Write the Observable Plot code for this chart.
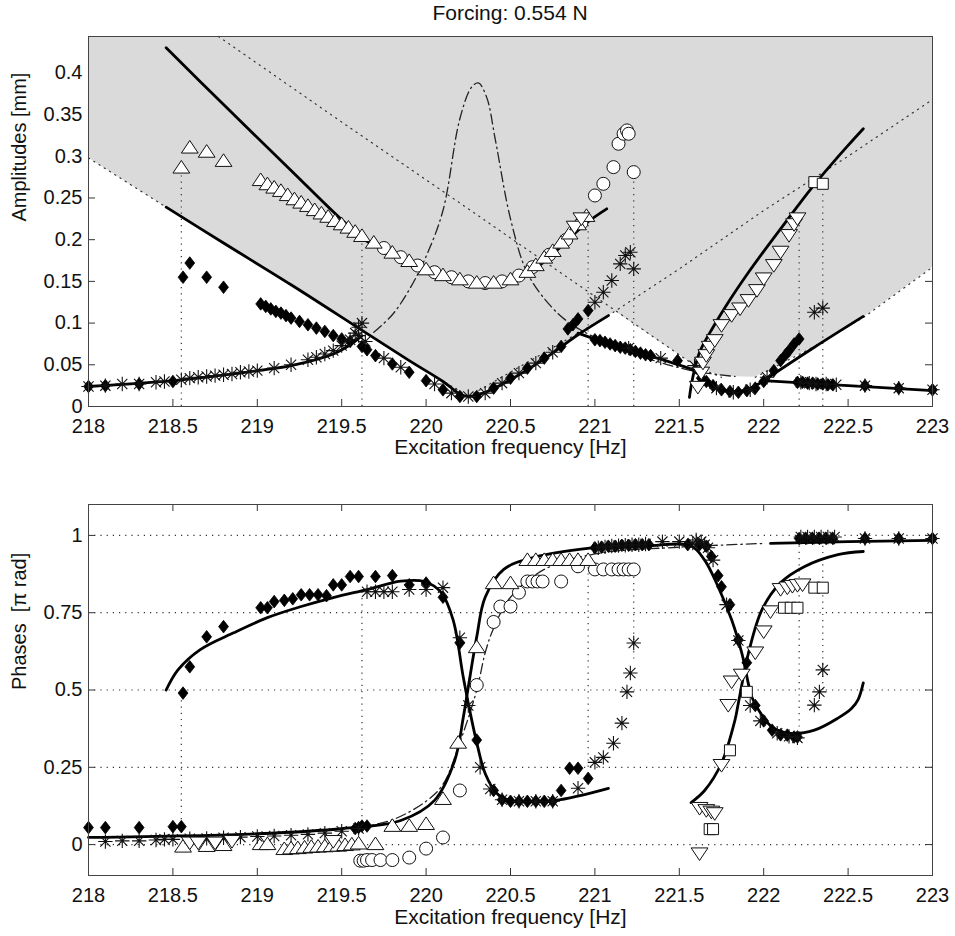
<!DOCTYPE html>
<html><head><meta charset="utf-8">
<script src="https://cdn.jsdelivr.net/npm/d3@7"></script>
<script src="https://cdn.jsdelivr.net/npm/@observablehq/plot@0.6"></script>
<style>
body{margin:0;background:#fff;font-family:"Liberation Sans",Arial,sans-serif;overflow:hidden}
#wrap{position:relative;width:955px;height:936px;overflow:hidden}
#title{position:absolute;left:88px;width:844px;top:1px;text-align:center;font-size:21px;color:#111;z-index:2;line-height:24px}
#top{position:absolute;left:0;top:0}
#bot{position:absolute;left:0;top:470px}
</style></head><body>
<div id="wrap"><div id="title">Forcing: 0.554 N</div><div id="top"></div><div id="bot"></div></div>
<script>
// ---------- common ----------
const xTicks = [218, 218.5, 219, 219.5, 220, 220.5, 221, 221.5, 222, 222.5, 223];
const xTickLabels = ["218","218.5","219","219.5","220","220.5","221","221.5","222","222.5","223"];
const xLabel = "Excitation frequency [Hz]";
const title = "Forcing: 0.554 N";

// ---------- top panel (amplitudes) ----------
const ampYTicks = [0, 0.05, 0.1, 0.15, 0.2, 0.25, 0.3, 0.35, 0.4];
const ampYTickLabels = ["0","0.05","0.1","0.15","0.2","0.25","0.3","0.35","0.4"];
const ampYMax = 0.4436;
const ampLabel = "Amplitudes [mm]";

const greyLower = [[218,0.298],[218.46,0.239],[218.8,0.196],[219.2,0.146],[219.6,0.094],[219.9,0.055],[220.1,0.03],[220.25,0.012],[220.5,0.032],[220.7,0.057],[220.9,0.086],[221.12,0.114],[221.6,0.048],[221.75,0.036],[221.95,0.035],[222.3,0.072],[222.6,0.108],[223,0.167]];

const dotB = [[218,0.298],[218.46,0.239],[219.2,0.146],[219.9,0.055],[220.25,0.012]];
const dotC = [[220.25,0.012],[221.08,0.109],[221.5,0.165],[222.0,0.235],[222.5,0.3],[223.0,0.368]];
const dotA = [[218.77,0.4436],[219.5,0.341],[220.2,0.244],[220.9,0.146],[221.6,0.048],[221.75,0.035]];
const dotD = [[221.95,0.035],[222.3,0.072],[222.6,0.108],[223.0,0.167]];

const ampDashDot = [[219.69,0.089],[219.8,0.11],[219.9,0.14],[220.0,0.18],[220.1,0.235],[220.2,0.345],[220.27,0.383],[220.31,0.388],[220.36,0.37],[220.41,0.32],[220.5,0.225],[220.6,0.16],[220.74,0.12],[220.85,0.1],[221.0,0.083],[221.2,0.066],[221.4,0.052],[221.6,0.042],[221.83,0.036]];

const ampS1 = [[218.46,0.43],[218.8,0.362],[219.2,0.283],[219.5,0.224],[219.65,0.198],[219.8,0.183],[220.0,0.164],[220.2,0.152],[220.35,0.148],[220.5,0.152],[220.65,0.166],[220.8,0.192],[220.95,0.22],[221.07,0.237]];
const ampS2 = [[218.46,0.239],[218.8,0.196],[219.2,0.146],[219.6,0.094],[219.9,0.055],[220.1,0.03],[220.2,0.015],[220.25,0.012],[220.35,0.017],[220.5,0.032],[220.7,0.057],[220.9,0.086],[221.08,0.109]];
const ampS3 = [[218.0,0.024],[218.5,0.031],[219.0,0.043],[219.2,0.049],[219.45,0.063],[219.55,0.074],[219.62,0.085]];
const ampS4 = [[220.9,0.088],[221.1,0.074],[221.3,0.062],[221.45,0.053],[221.57,0.045]];
const ampS5 = [[221.56,0.011],[221.58,0.035],[221.62,0.065],[221.7,0.095],[221.8,0.128],[221.9,0.158],[222.0,0.186],[222.1,0.213],[222.2,0.24],[222.3,0.266],[222.4,0.29],[222.5,0.313],[222.59,0.333]];
const ampS6 = [[221.57,0.045],[221.65,0.033],[221.72,0.022],[221.8,0.018],[221.88,0.019],[221.95,0.025],[222.03,0.034]];
const ampS7 = [[222.0,0.031],[222.3,0.071],[222.59,0.108]];
const ampS8 = [[222.0,0.031],[222.5,0.025],[223.0,0.019]];

const ampJumps = [[218.55,0.287],[219.62,0.205],[220.96,0.235],[221.23,0.281],[222.21,0.222],[222.35,0.267]];

const ampTriUp = [[218.55,0.287],[218.6,0.311],[218.7,0.306],[218.8,0.295],
 [219.02,0.272],[219.06,0.267],[219.1,0.263],[219.14,0.259],[219.18,0.254],[219.22,0.249],[219.26,0.245],[219.3,0.241],[219.34,0.236],[219.38,0.232],[219.42,0.228],[219.46,0.223],[219.5,0.219],[219.54,0.215],[219.58,0.21],[219.62,0.205],
 [219.69,0.197],[219.8,0.185],[219.9,0.175],[220.0,0.165],[220.1,0.158],[220.2,0.153],[220.3,0.149],[220.4,0.149],[220.5,0.153],[220.6,0.162],[220.65,0.17],[220.7,0.179],[220.75,0.187],[220.8,0.197],[220.85,0.208],[220.9,0.219],[220.95,0.229]];
const ampCircle = [[219.75,0.19],[219.85,0.179],[219.95,0.169],[220.05,0.161],[220.15,0.155],[220.25,0.15],[220.35,0.148],[220.45,0.15],[220.55,0.157],[220.63,0.167],[220.73,0.182],[220.83,0.2],[220.92,0.22],[221.0,0.253],[221.05,0.267],[221.11,0.287],[221.14,0.315],[221.17,0.327],[221.19,0.331],[221.2,0.327],[221.23,0.281]];
const ampDiamond = [[218.0,0.024],[218.1,0.025],[218.3,0.027],[218.5,0.03],
 [218.56,0.155],[218.6,0.172],[218.7,0.155],[218.8,0.143],
 [219.02,0.123],[219.05,0.12],[219.08,0.117],[219.11,0.114],[219.14,0.112],[219.17,0.109],[219.2,0.106],[219.25,0.102],[219.3,0.098],[219.35,0.094],[219.4,0.09],[219.45,0.085],[219.5,0.081],[219.55,0.078],
 [219.62,0.072],[219.65,0.068],[219.7,0.061],[219.8,0.051],[219.9,0.041],[220.0,0.031],[220.1,0.02],[220.2,0.012],[220.3,0.012],[220.4,0.022],[220.5,0.034],[220.6,0.046],[220.7,0.058],[220.8,0.072],[220.84,0.093],[220.87,0.098],[220.9,0.105],[220.96,0.115],
 [221.0,0.08],[221.03,0.079],[221.06,0.077],[221.09,0.075],[221.12,0.073],[221.15,0.071],[221.18,0.07],[221.21,0.068],[221.24,0.066],[221.27,0.064],[221.3,0.062],[221.33,0.061],[221.49,0.055],
 [221.63,0.034],[221.66,0.03],[221.7,0.025],[221.75,0.02],[221.8,0.018],[221.85,0.017],[221.9,0.019],[221.95,0.022],[222.0,0.03],
 [222.06,0.043],[222.1,0.055],[222.13,0.062],[222.15,0.067],[222.18,0.075],[222.21,0.081],
 [222.2,0.029],[222.23,0.029],[222.26,0.028],[222.29,0.028],[222.32,0.027],[222.35,0.027],[222.38,0.026],[222.41,0.026],[222.6,0.025],[222.8,0.022],[223.0,0.02]];
const ampAsterisk = [[218.0,0.024],[218.1,0.025],[218.2,0.027],[218.3,0.027],[218.4,0.029],[218.45,0.03],[218.55,0.032],[218.6,0.034],[218.65,0.035],[218.7,0.036],[218.75,0.037],[218.8,0.038],[218.85,0.039],[218.9,0.041],[218.95,0.042],[219.0,0.043],[219.1,0.046],[219.2,0.05],[219.3,0.056],[219.35,0.059],[219.4,0.063],[219.45,0.067],[219.5,0.073],[219.55,0.08],[219.58,0.088],[219.6,0.095],[219.62,0.1],[219.6,0.085],[219.64,0.078],
 [219.75,0.058],[219.85,0.047],[220.05,0.027],[220.15,0.016],[220.25,0.012],[220.35,0.016],[220.45,0.028],[220.55,0.04],[220.65,0.052],[220.75,0.065],
 [221.0,0.125],[221.05,0.137],[221.1,0.151],[221.15,0.171],[221.18,0.181],[221.21,0.185],[221.23,0.165],
 [221.2,0.07],[221.39,0.058],[221.59,0.049],[221.62,0.045],
 [221.72,0.022],[221.82,0.017],[221.92,0.02],[222.02,0.035],
 [222.3,0.113],[222.35,0.118],
 [222.22,0.029],[222.27,0.028],[222.31,0.027],[222.37,0.027],[222.43,0.026],[222.6,0.025],[222.8,0.022],[223.0,0.02]];
const ampTriDown = [[220.88,0.215],[220.92,0.225],[221.61,0.023],[221.63,0.04],[221.64,0.052],[221.66,0.061],[221.68,0.071],[221.71,0.079],[221.75,0.097],[221.81,0.109],[221.86,0.117],[221.91,0.127],[221.96,0.139],[222.0,0.153],[222.06,0.169],[222.1,0.185],[222.15,0.205],[222.18,0.218],[222.2,0.225]];
const ampSquare = [[222.3,0.269],[222.35,0.267]];

// ---------- bottom panel (phases) ----------
const phYTicks = [0, 0.25, 0.5, 0.75, 1];
const phYTickLabels = ["0","0.25","0.5","0.75","1"];
const phYDomain = [-0.1, 1.1];
const phLabel = "Phases  [\u03C0 rad]";

const phJumps = [[218.55,0.0,0.49],[219.62,0.05,0.82],[220.96,0.25,0.92],[221.23,0.6,0.89],[222.21,0.36,0.99],[222.35,0.5,0.99]];

const phDashDot = [[219.6,0.055],[219.8,0.08],[220.0,0.14],[220.1,0.195],[220.2,0.33],[220.3,0.5],[220.35,0.62],[220.4,0.7],[220.5,0.8],[220.7,0.89],[221.0,0.94],[221.5,0.962],[222.0,0.974]];
const phP1 = [[218.46,0.5],[218.53,0.565],[218.66,0.63],[218.86,0.685],[219.06,0.734],[219.26,0.77],[219.45,0.799],[219.65,0.825],[219.85,0.852],[219.99,0.851],[220.09,0.815],[220.16,0.727],[220.22,0.542],[220.26,0.43],[220.3,0.33],[220.35,0.23],[220.42,0.165],[220.5,0.143],[220.76,0.143],[221.08,0.182]];
const phP2 = [[218.0,0.023],[219.0,0.035],[219.51,0.052],[219.85,0.078],[220.05,0.143],[220.17,0.273],[220.22,0.41],[220.25,0.51],[220.3,0.672],[220.35,0.8],[220.46,0.89],[220.66,0.932],[221.05,0.964]];
const phP3 = [[221.0,0.962],[221.3,0.966],[221.57,0.966],[221.65,0.92],[221.73,0.834],[221.81,0.727],[221.87,0.62],[221.93,0.477],[221.97,0.435],[222.05,0.38],[222.16,0.36],[222.3,0.37],[222.44,0.409],[222.52,0.44],[222.56,0.47],[222.59,0.523]];
const phP4 = [[221.57,0.136],[221.65,0.175],[221.75,0.263],[221.83,0.403],[221.85,0.458],[221.91,0.62],[221.99,0.76],[222.1,0.847],[222.24,0.899],[222.44,0.938],[222.59,0.948]];
const phP5 = [[222.04,0.974],[222.5,0.98],[223.0,0.984]];

const phDiamond = [[218.0,0.055],[218.1,0.055],[218.3,0.055],[218.5,0.058],[218.55,0.058],
 [218.56,0.49],[218.6,0.575],[218.7,0.672],[218.8,0.705],[219.02,0.766],[219.06,0.766],[219.1,0.786],[219.16,0.79],[219.21,0.795],[219.26,0.808],[219.31,0.808],[219.36,0.808],[219.41,0.805],[219.45,0.84],[219.5,0.84],[219.55,0.867],[219.6,0.867],[219.7,0.867],[219.8,0.87],[219.9,0.84],[220.0,0.846],[220.1,0.8],[220.2,0.652],
 [219.58,0.052],[219.6,0.055],[219.62,0.06],[219.65,0.06],
 [220.3,0.338],[220.4,0.175],[220.45,0.145],[220.5,0.14],[220.55,0.14],[220.6,0.14],[220.65,0.14],[220.7,0.14],[220.75,0.14],[220.8,0.175],[220.85,0.247],[220.9,0.247],[220.96,0.214],
 [221.0,0.96],[221.04,0.962],[221.08,0.965],[221.12,0.965],[221.16,0.968],[221.2,0.968],[221.24,0.97],[221.28,0.97],[221.32,0.97],[221.55,0.97],[221.62,0.97],[221.66,0.965],[221.69,0.932],[221.73,0.87],[221.75,0.834],[221.8,0.776],[221.85,0.662],[221.9,0.588],[221.95,0.45],[222.0,0.4],[222.05,0.37],[222.1,0.355],[222.14,0.354],[222.18,0.348],[222.2,0.348],
 [222.21,0.99],[222.25,0.99],[222.29,0.99],[222.33,0.99],[222.37,0.99],[222.41,0.99],[222.6,0.99],[222.8,0.99],[223.0,0.99]];
const phAsterisk = [[218.1,0.01],[218.2,0.012],[218.3,0.012],[218.4,0.015],[218.45,0.017],[218.5,0.017],[218.6,0.019],[218.7,0.02],[218.8,0.022],[218.9,0.024],[219.0,0.026],[219.1,0.028],[219.2,0.03],[219.3,0.033],[219.4,0.037],[219.5,0.043],[219.6,0.052],
 [219.65,0.818],[219.7,0.818],[219.75,0.818],[219.8,0.818],[219.9,0.825],[220.0,0.825],[220.1,0.831],[220.2,0.669],
 [220.25,0.45],[220.32,0.25],[220.38,0.18],[220.45,0.145],[220.55,0.14],[220.65,0.14],[220.75,0.14],[220.9,0.182],[221.0,0.266],[221.05,0.282],[221.11,0.328],[221.16,0.393],[221.19,0.494],[221.21,0.555],[221.23,0.652],
 [221.02,0.96],[221.06,0.963],[221.1,0.966],[221.14,0.967],[221.18,0.968],[221.22,0.97],[221.26,0.97],[221.3,0.972],[221.4,0.98],[221.5,0.98],[221.58,0.975],[221.6,0.985],[221.63,0.98],[221.65,0.97],[221.67,0.96],[221.7,0.92],[221.78,0.776],[221.85,0.66],[221.92,0.45],[221.98,0.4],[222.08,0.36],[222.15,0.35],[222.2,0.345],
 [222.22,0.995],[222.26,0.995],[222.3,0.995],[222.34,0.995],[222.38,0.995],[222.42,0.995],[222.6,0.99],[222.8,0.99],[223.0,0.99],
 [222.3,0.451],[222.33,0.494],[222.35,0.565]];
const phTriUp = [[218.56,-0.005],[218.7,-0.003],[218.8,0.0],[219.02,0.003],[219.06,0.003],[219.16,-0.013],[219.2,-0.011],[219.24,-0.01],[219.28,-0.008],[219.32,-0.006],[219.36,-0.005],[219.4,-0.004],[219.44,-0.003],[219.48,-0.002],[219.52,0.0],[219.56,0.002],[219.6,0.005],[219.7,0.003],[219.8,0.062],[219.9,0.062],[220.0,0.068],[220.1,0.149],[220.19,0.331],[220.3,0.64],[220.4,0.847],[220.5,0.847],[220.6,0.922],[220.65,0.922],[220.7,0.922],[220.75,0.922],[220.8,0.922],[220.85,0.922],[220.9,0.922],[220.96,0.922]];
const phTriDown = [[218.6,0.005],[218.65,0.005],[218.75,0.005],[218.85,0.01],[219.45,0.01],
 [221.62,0.117],[221.66,0.11],[221.69,0.105],[221.71,0.1],[221.62,-0.03],[221.75,0.256],[221.79,0.45],[221.81,0.526],[221.87,0.548],[221.95,0.62],[222.0,0.688],[222.04,0.753],[222.1,0.825],[222.14,0.83],[222.17,0.835],[222.2,0.838],[222.23,0.84]];
const phSquare = [[221.68,0.05],[221.7,0.05],[221.8,0.305],[221.9,0.494],[222.12,0.766],[222.16,0.766],[222.2,0.766],[222.3,0.831],[222.35,0.831]];
const phCircle = [[219.61,-0.052],[219.63,-0.052],[219.65,-0.05],[219.68,-0.05],[219.73,-0.05],[219.8,-0.05],[219.9,-0.042],[220.0,-0.013],[220.1,0.023],[220.2,0.175],[220.3,0.516],[220.4,0.72],[220.44,0.77],[220.5,0.77],[220.55,0.815],[220.6,0.851],[220.63,0.851],[220.66,0.851],[220.69,0.851],[220.8,0.851],[220.9,0.9],[221.0,0.89],[221.05,0.89],[221.1,0.89],[221.14,0.89],[221.17,0.89],[221.2,0.89],[221.23,0.89]];

// ---------- symbols ----------
const R = s => Math.sqrt(s / Math.PI);
const symTriUp = {draw(c, s){const r=R(s); c.moveTo(0,-0.95*r); c.lineTo(1.2*r,0.85*r); c.lineTo(-1.2*r,0.85*r); c.closePath();}};
const symTriDown = {draw(c, s){const r=R(s); c.moveTo(0,0.95*r); c.lineTo(1.2*r,-0.85*r); c.lineTo(-1.2*r,-0.85*r); c.closePath();}};
const symDiamond = {draw(c, s){const r=R(s); c.moveTo(0,-r); c.lineTo(0.78*r,0); c.lineTo(0,r); c.lineTo(-0.78*r,0); c.closePath();}};
const symAst = {draw(c, s){const r=R(s), d=r*Math.SQRT1_2; c.moveTo(-r,0); c.lineTo(r,0); c.moveTo(0,-r); c.lineTo(0,r); c.moveTo(-d,-d); c.lineTo(d,d); c.moveTo(-d,d); c.lineTo(d,-d);}};
const symSquare = {draw(c, s){const r=R(s); c.rect(-r,-r,2*r,2*r);}};

const X = d => d[0], Y = d => d[1];
const FONT = "'Liberation Sans', Arial, Helvetica, sans-serif";
const dotted = {stroke:"#333", strokeWidth:1.2, strokeDasharray:"1.2,5"};
const dashdot = {stroke:"#222", strokeWidth:1.3, strokeDasharray:"10,4,1.5,4"};
const solid = {stroke:"#000", strokeWidth:2.8, curve:"catmull-rom"};
const markers = (tri, circ, dia, ast, triD, sq) => [
  Plot.dot(circ, {x:X, y:Y, symbol:"circle", r:6.5, fill:"white", stroke:"#111", strokeWidth:1}),
  Plot.dot(tri, {x:X, y:Y, symbol:symTriUp, r:7, fill:"white", stroke:"#111", strokeWidth:1}),
  Plot.dot(dia, {x:X, y:Y, symbol:symDiamond, r:6.3, fill:"#000", stroke:"#000", strokeWidth:0.8}),
  Plot.dot(ast, {x:X, y:Y, symbol:symAst, r:7.2, fill:"none", stroke:"#111", strokeWidth:1.1}),
  Plot.dot(triD, {x:X, y:Y, symbol:symTriDown, r:7, fill:"white", stroke:"#111", strokeWidth:1}),
  Plot.dot(sq, {x:X, y:Y, symbol:symSquare, r:5.5, fill:"white", stroke:"#111", strokeWidth:1})
];
const W = 955 - 88 - 23;
function ticksMarks(yTicks, H){
  return [
    Plot.tickX(xTicks, {x:d=>d, insetTop:H-7, stroke:"#333"}),
    Plot.tickX(xTicks, {x:d=>d, insetBottom:H-7, stroke:"#333"}),
    Plot.tickY(yTicks, {y:d=>d, insetRight:W-7, stroke:"#333"}),
    Plot.tickY(yTicks, {y:d=>d, insetLeft:W-7, stroke:"#333"})
  ];
}
function axes(yTicks, yLabels, yLab, xPad, xLabDy){
  return [
    Plot.axisX({ticks:xTicks, tickSize:0, tickPadding:xPad, tickFormat:d=>xTickLabels[xTicks.indexOf(d)], fontSize:20, label:null, fill:"#111"}),
    Plot.axisY({ticks:yTicks, tickSize:0, tickPadding:6, tickFormat:d=>yLabels[yTicks.indexOf(d)], fontSize:20, label:null, fill:"#111"}),
    Plot.text([xLabel], {text:d=>d, frameAnchor:"bottom", dy:xLabDy, fontSize:21, fill:"#111"}),
    Plot.text([yLab], {text:d=>d, frameAnchor:"left", dx:-69, rotate:-90, fontSize:20, fill:"#111"})
  ];
}

// ---------- top plot ----------
const topH = 460, topMT = 36, topMB = 54;
const topPlot = Plot.plot({
  width:955, height:topH, marginTop:topMT, marginBottom:topMB, marginLeft:88, marginRight:23,
  x:{domain:[218,223]}, y:{domain:[0, ampYMax]},
  style:{fontFamily:FONT, fontSize:"20px", color:"#111", background:"transparent", overflow:"visible"},
  marks:[
    ...ticksMarks(ampYTicks, topH-topMT-topMB),
    Plot.areaY(greyLower, {x:X, y1:Y, y2:ampYMax, fill:"#dadada"}),
    Plot.ruleX(ampJumps, {x:X, y1:0, y2:Y, ...dotted}),
    Plot.line(dotA, {x:X, y:Y, ...dotted}),
    Plot.line(dotB, {x:X, y:Y, ...dotted}),
    Plot.line(dotC, {x:X, y:Y, ...dotted}),
    Plot.line(dotD, {x:X, y:Y, ...dotted}),
    Plot.line(ampDashDot, {x:X, y:Y, curve:"catmull-rom", ...dashdot}),
    ...[ampS1, ampS2, ampS3, ampS4, ampS5, ampS6, ampS7, ampS8].map(s => Plot.line(s, {x:X, y:Y, ...solid})),
    ...markers(ampTriUp, ampCircle, ampDiamond, ampAsterisk, ampTriDown, ampSquare),
    ...axes(ampYTicks, ampYTickLabels, ampLabel, 12, 47),
    Plot.frame({stroke:"#444", strokeWidth:1})
  ]
});
document.getElementById("top").appendChild(topPlot);

// ---------- bottom plot ----------
const botH = 466, botMT = 34, botMB = 61;
const botPlot = Plot.plot({
  width:955, height:botH, marginTop:botMT, marginBottom:botMB, marginLeft:88, marginRight:23,
  x:{domain:[218,223]}, y:{domain:phYDomain},
  style:{fontFamily:FONT, fontSize:"20px", color:"#111", background:"transparent", overflow:"visible"},
  marks:[
    Plot.ruleY(phYTicks, {y:d=>d, ...dotted}),
    ...ticksMarks(phYTicks, botH-botMT-botMB),
    Plot.ruleX(phJumps, {x:d=>d[0], y1:d=>d[1], y2:d=>d[2], ...dotted}),
    Plot.line(phDashDot, {x:X, y:Y, curve:"catmull-rom", ...dashdot}),
    ...[phP1, phP2, phP3, phP4, phP5].map(s => Plot.line(s, {x:X, y:Y, ...solid})),
    ...markers(phTriUp, phCircle, phDiamond, phAsterisk, phTriDown, phSquare),
    ...axes(phYTicks, phYTickLabels, phLabel, 12, 48),
    Plot.frame({stroke:"#444", strokeWidth:1})
  ]
});
document.getElementById("bot").appendChild(botPlot);
</script>
</body></html>
